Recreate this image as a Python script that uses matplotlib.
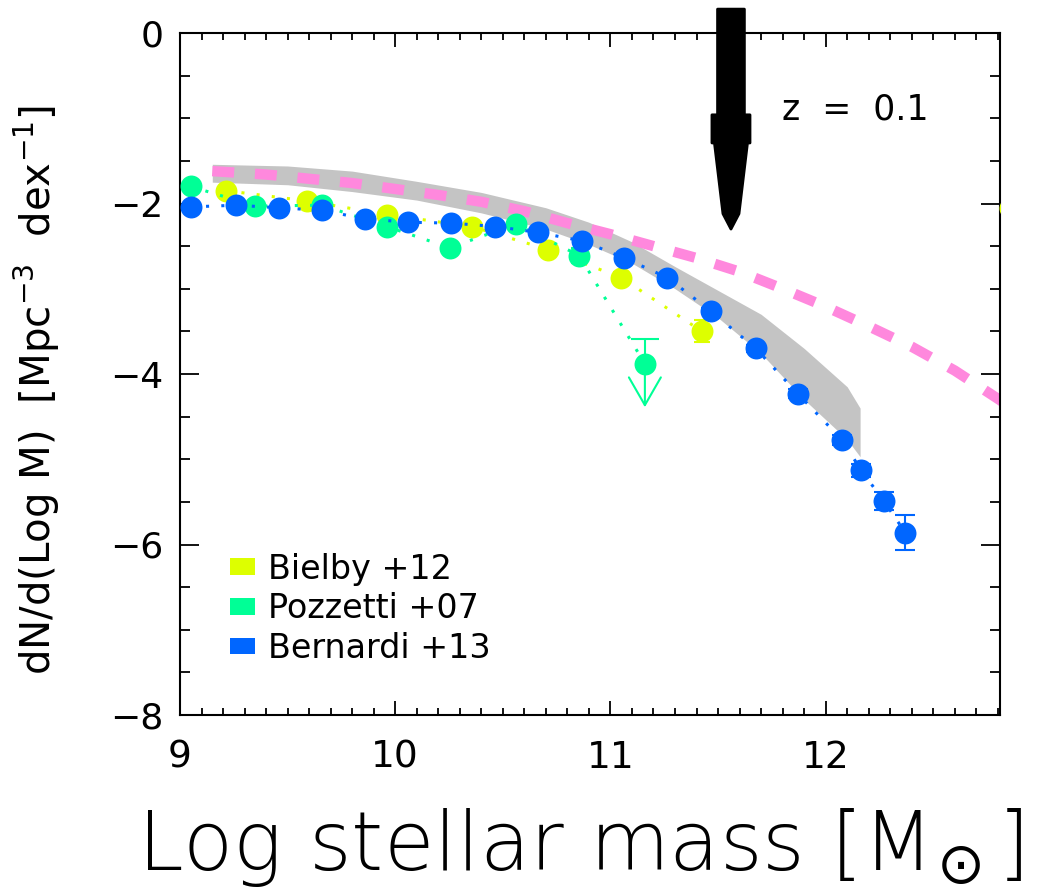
import matplotlib
matplotlib.use("Agg")
import matplotlib.pyplot as plt
from matplotlib.patches import Patch, Polygon
from matplotlib.ticker import MultipleLocator
import numpy as np

plt.rcParams['font.family'] = ['DejaVu Sans']
plt.rcParams['mathtext.fontset'] = 'dejavusans'

# ---------------- data ----------------
bernardi_x = [9.05, 9.26, 9.46, 9.66, 9.86, 10.06, 10.26, 10.465, 10.665, 10.87,
              11.065, 11.265, 11.465, 11.675, 11.87, 12.075, 12.165, 12.27, 12.37]
bernardi_y = [-2.04, -2.02, -2.05, -2.08, -2.18, -2.22, -2.23, -2.27, -2.34, -2.44,
              -2.64, -2.87, -3.26, -3.70, -4.23, -4.77, -5.13, -5.49, -5.86]
bernardi_err = [0.02, 0.02, 0.02, 0.02, 0.02, 0.02, 0.02, 0.02, 0.02, 0.02,
                0.02, 0.03, 0.03, 0.04, 0.05, 0.06, 0.08, 0.11, 0.21]

pozzetti_x = [9.05, 9.35, 9.66, 9.96, 10.255, 10.56, 10.855, 11.16]
pozzetti_y = [-1.80, -2.03, -2.02, -2.27, -2.52, -2.24, -2.61, -3.88]
pozzetti_err = [0.03, 0.03, 0.03, 0.04, 0.05, 0.05, 0.09, 0.0]
pozzetti_limit_up = 0.29      # upper error of the last (upper-limit) point
pozzetti_limit_tip = -4.39    # tip of the upper-limit arrow

bielby_x = [9.215, 9.59, 9.96, 10.355, 10.71, 11.05, 11.425]
bielby_y = [-1.85, -1.97, -2.13, -2.27, -2.54, -2.87, -3.50]
bielby_err = [0.03, 0.03, 0.03, 0.04, 0.05, 0.07, 0.13]
bielby_edge_x = [12.855]
bielby_edge_y = [-2.05]

band_x = [9.15, 9.5, 9.8, 10.1, 10.4, 10.7, 10.9, 11.1, 11.3, 11.5, 11.7, 11.9, 12.1, 12.16]
band_hi = [-1.54, -1.56, -1.62, -1.74, -1.87, -2.05, -2.22, -2.45, -2.74, -3.02,
           -3.30, -3.70, -4.15, -4.40]
band_lo = [-1.75, -1.78, -1.86, -1.96, -2.11, -2.30, -2.48, -2.70, -3.00, -3.34,
           -3.76, -4.30, -4.77, -4.97]

model_x = [9.15, 9.4, 9.6, 9.8, 10.0, 10.2, 10.4, 10.6, 10.8, 11.0, 11.2, 11.4,
           11.6, 11.8, 12.0, 12.2, 12.4, 12.6, 12.8, 12.9]
model_y = [-1.62, -1.66, -1.71, -1.76, -1.83, -1.90, -1.98, -2.09, -2.23, -2.36,
           -2.50, -2.64, -2.80, -3.00, -3.21, -3.44, -3.68, -3.96, -4.29, -4.46]

legend_labels = ["Bielby +12", "Pozzetti +07", "Bernardi +13"]
xticks = [9, 10, 11, 12]
yticks = [0, -2, -4, -6, -8]

# arrow marking the mass (annotation)
arrow_x = 11.56
arrow_top = 0.28
arrow_tip = -2.30

# ---------------- style ----------------
c_yellow = '#DDFF00'
c_green = '#00FF96'
c_blue = '#0066FF'
c_pink = '#FF88DD'
c_gray = '#C4C4C4'

fig = plt.figure(figsize=(10.38, 8.91), dpi=100)
ax = fig.add_axes([180 / 1038, 1 - 715 / 891, 820 / 1038, 682 / 891])
ax.set_xlim(9, 12.81)
ax.set_ylim(-8, 0)

ms = 15.8
dot = (0, (1, 4))

ax.fill_between(band_x, band_lo, band_hi, color=c_gray, lw=0, zorder=1)
ax.plot(model_x, model_y, color=c_pink, lw=7.5, ls=(0, (2.1, 2.0)),
        dash_capstyle='butt', zorder=2)

# Bielby
ax.plot(bielby_x, bielby_y, ls=dot, lw=2.2, color=c_yellow, zorder=3)
ax.errorbar(bielby_x, bielby_y, yerr=bielby_err, fmt='none', ecolor=c_yellow,
            elinewidth=1.5, capsize=6, capthick=1.5, zorder=3)
ax.plot(bielby_x, bielby_y, 'o', ms=ms, mew=0, color=c_yellow, zorder=3)
ax.plot(bielby_edge_x, bielby_edge_y, 'o', ms=ms, mew=0, color=c_yellow, zorder=3)

# Pozzetti
ax.plot(pozzetti_x, pozzetti_y, ls=dot, lw=2.2, color=c_green, zorder=4)
ax.errorbar(pozzetti_x[:-1], pozzetti_y[:-1], yerr=pozzetti_err[:-1], fmt='none',
            ecolor=c_green, elinewidth=1.5, capsize=6, capthick=1.5, zorder=4)
_, caps, _ = ax.errorbar([pozzetti_x[-1]], [pozzetti_y[-1]],
                         yerr=[[0], [pozzetti_limit_up]], fmt='none',
                         ecolor=c_green, elinewidth=1.5, capsize=10, capthick=1.5,
                         zorder=4)
caps[0].set_visible(False)
ax.annotate('', xy=(pozzetti_x[-1], pozzetti_limit_tip),
            xytext=(pozzetti_x[-1], pozzetti_y[-1]),
            arrowprops=dict(arrowstyle='->,head_width=1.15,head_length=2.0',
                            color=c_green, lw=1.5, shrinkA=0, shrinkB=0),
            zorder=4)
ax.plot(pozzetti_x, pozzetti_y, 'o', ms=ms, mew=0, color=c_green, zorder=4)

# Bernardi
ax.plot(bernardi_x, bernardi_y, ls=dot, lw=2.2, color=c_blue, zorder=5)
ax.errorbar(bernardi_x, bernardi_y, yerr=bernardi_err, fmt='none', ecolor=c_blue,
            elinewidth=1.5, capsize=7, capthick=1.5, zorder=5)
ax.plot(bernardi_x, bernardi_y, 'o', ms=ms, mew=0, color=c_blue, zorder=5)

# big black arrow (annotation), built from its parameters
xs = 215.0   # px per x unit
shaft = 13.4 / xs
flange = 19.0 / xs
taper0 = 16.5 / xs
taper1 = 8.0 / xs
flange_top, flange_bot, taper_end = -0.96, -1.29, -2.12
verts = [(arrow_x - shaft, arrow_top), (arrow_x + shaft, arrow_top),
         (arrow_x + shaft, flange_top), (arrow_x + flange, flange_top),
         (arrow_x + flange, flange_bot), (arrow_x + taper0, flange_bot),
         (arrow_x + taper1, taper_end), (arrow_x, arrow_tip),
         (arrow_x - taper1, taper_end), (arrow_x - taper0, flange_bot),
         (arrow_x - flange, flange_bot), (arrow_x - flange, flange_top),
         (arrow_x - shaft, flange_top)]
ax.add_patch(Polygon(verts, closed=True, facecolor='black', edgecolor='black',
                     lw=2, joinstyle='round', clip_on=False, zorder=6))

ax.text(11.795, -0.90, "z  =  0.1", fontsize=25, ha='left', va='center', zorder=7)

# legend
handles = [Patch(facecolor=c, edgecolor='none') for c in (c_yellow, c_green, c_blue)]
ax.legend(handles, legend_labels, loc='upper left', bbox_to_anchor=(0.061, 0.238),
          frameon=False, fontsize=24, handlelength=0.75, handleheight=0.39,
          handletextpad=0.4, labelspacing=0.2, borderpad=0, borderaxespad=0)

# axes / ticks
ax.set_xticks(xticks)
ax.set_yticks(yticks)
ax.xaxis.set_minor_locator(MultipleLocator(0.1))
ax.yaxis.set_minor_locator(MultipleLocator(0.5))
ax.tick_params(axis='both', which='both', direction='in', top=True, right=True,
               width=1.3, color='black')
ax.tick_params(axis='x', which='major', length=10, pad=18, labelsize=27)
ax.tick_params(axis='x', which='minor', length=5)
ax.tick_params(axis='y', which='major', length=14, pad=12, labelsize=26)
ax.tick_params(axis='y', which='minor', length=7)
for s in ax.spines.values():
    s.set_linewidth(1.5)

ax.set_xlabel(r"Log stellar mass [M$_{\!\odot}$]", fontsize=59, va='baseline',
              fontweight=200)
ax.xaxis.set_label_coords(0.488, -0.227)
ax.set_ylabel(r"dN/d(Log M)  [Mpc$^{-3}$  dex$^{-1}$]", fontsize=29, va='bottom')
ax.yaxis.set_label_coords(-0.144, 0.4765)

fig.savefig("out.png", dpi=100)
